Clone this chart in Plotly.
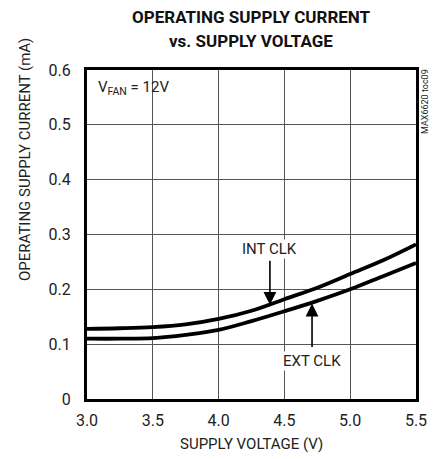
import plotly.graph_objects as go

# Data
voltage = [3.0, 3.25, 3.5, 3.75, 4.0, 4.25, 4.5, 4.75, 5.0, 5.25, 5.5]
int_clk = [0.128, 0.129, 0.131, 0.136, 0.146, 0.161, 0.182, 0.203, 0.228, 0.253, 0.282]
ext_clk = [0.110, 0.110, 0.111, 0.117, 0.126, 0.142, 0.160, 0.179, 0.200, 0.224, 0.248]

x_ticks = [3.0, 3.5, 4.0, 4.5, 5.0, 5.5]
x_ticktext = ["3.0", "3.5", "4.0", "4.5", "5.0", "5.5"]
y_ticks = [0, 0.1, 0.2, 0.3, 0.4, 0.5, 0.6]
y_ticktext = ["0", "0.1", "0.2", "0.3", "0.4", "0.5", "0.6"]

FONT = "Roboto, Liberation Sans, sans-serif"
TXT = "#222"

fig = go.Figure()
fig.add_trace(go.Scatter(x=voltage, y=int_clk, mode="lines", line=dict(color="black", width=3.8, shape="spline"),
                         name="INT CLK", showlegend=False, hoverinfo="skip"))
fig.add_trace(go.Scatter(x=voltage, y=ext_clk, mode="lines", line=dict(color="black", width=3.8, shape="spline"),
                         name="EXT CLK", showlegend=False, hoverinfo="skip"))

axis_common = dict(showgrid=True, gridcolor="#555", gridwidth=1, zeroline=False,
                   showline=True, linecolor="black", linewidth=3, mirror=True, automargin=False,
                   ticks="", tickfont=dict(family=FONT, size=16, color=TXT))

fig.update_xaxes(range=[3.0, 5.5], tickvals=x_ticks, ticktext=x_ticktext, ticklabelstandoff=5, **axis_common)
fig.update_yaxes(range=[0, 0.6], tickvals=y_ticks, ticktext=y_ticktext, ticklabelstandoff=10, **axis_common)

# page body margin is removed by the post script below
W, H = 439, 459
# plot area in page pixels
PL, PR, PT, PB = 87, 416, 70, 399
L, T = PL, PT
R, B = W - PR, H - PB

def px(xp, yp):
    """page pixel -> paper fraction"""
    return (xp - PL) / (PR - PL), (PB - yp) / (PB - PT)

annotations = []

def add_text(xp, yp, text, size, **kw):
    x, y = px(xp, yp)
    d = dict(x=x, y=y, xref="paper", yref="paper", text=text, showarrow=False,
             xanchor="center", yanchor="middle",
             font=dict(family=FONT, size=size, color=kw.pop("color", TXT)))
    d.update(kw)
    annotations.append(d)

add_text(251, 17, "<b>OPERATING SUPPLY CURRENT</b>", 17, color="#111")
add_text(251, 41, "<b>vs. SUPPLY VOLTAGE</b>", 17, color="#111")
add_text(251, 444, "SUPPLY VOLTAGE (V)", 15)
add_text(25, 160, "OPERATING SUPPLY CURRENT (mA)", 15, textangle=-90)
add_text(96, 88, "V<sub>FAN</sub> = 12V", 15, xanchor="left")
add_text(425, 102, "MAX6620 toc09", 9, textangle=-90)

annotations += [
    dict(x=4.39, y=0.172, ax=4.39, ay=0.255, axref="x", ayref="y", xref="x", yref="y",
         showarrow=True, arrowhead=2, arrowsize=1.6, arrowwidth=1.6, arrowcolor="black", text=""),
    dict(x=4.39, y=0.255, xref="x", yref="y", text="INT CLK", showarrow=False, yanchor="bottom",
         font=dict(family=FONT, size=15, color=TXT), bgcolor="white", borderpad=0),
    dict(x=4.71, y=0.174, ax=4.71, ay=0.092, axref="x", ayref="y", xref="x", yref="y",
         showarrow=True, arrowhead=2, arrowsize=1.6, arrowwidth=1.6, arrowcolor="black", text=""),
    dict(x=4.71, y=0.088, xref="x", yref="y", text="EXT CLK", showarrow=False, yanchor="top",
         font=dict(family=FONT, size=15, color=TXT), bgcolor="white", borderpad=0),
]

fig.update_layout(
    width=W, height=H,
    margin=dict(l=L, r=R, t=T, b=B),
    paper_bgcolor="white", plot_bgcolor="white",
    annotations=annotations,
)

fig.write_html("out.html", config={"displayModeBar": False},
               post_script="document.body.style.margin='0';")
